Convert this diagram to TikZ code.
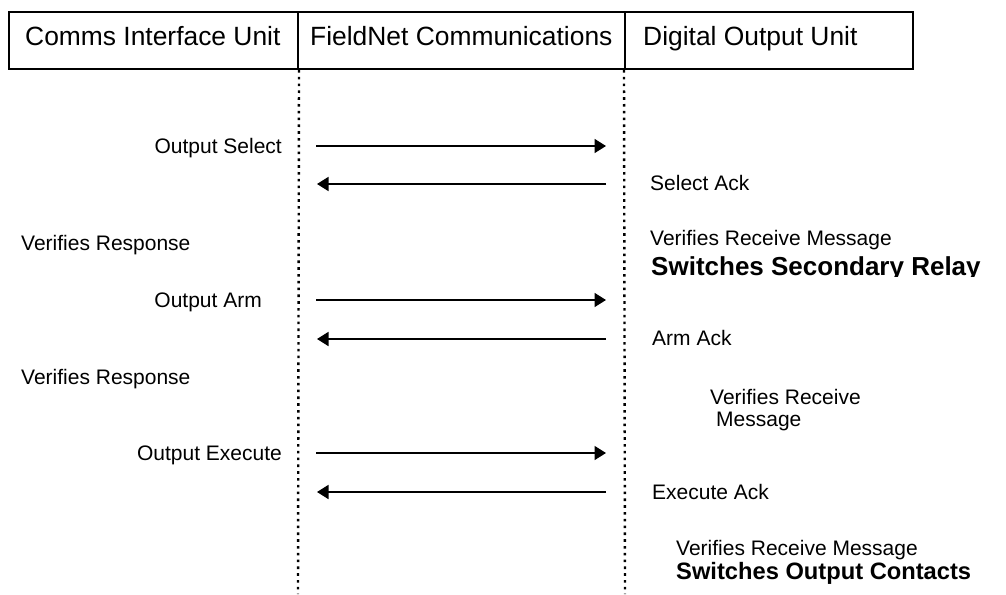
\documentclass[tikz,border=0pt]{standalone}
\usepackage{fontspec}
\setmainfont{Liberation Sans}
\usetikzlibrary{arrows.meta}
\begin{document}
\begin{tikzpicture}[x=1pt,y=-1pt,
  cell/.style={draw, line width=2pt, minimum height=57pt, inner sep=0pt},
  hdr/.style={font=\fontsize{26.4}{30}\selectfont, inner sep=0pt, anchor=base west},
  lbl/.style={font=\fontsize{21}{22.5}\selectfont, inner sep=0pt, anchor=base west},
  lblr/.style={font=\fontsize{21}{22.5}\selectfont, inner sep=0pt, anchor=base east},
  boldbig/.style={font=\fontsize{26}{29}\selectfont\bfseries, inner sep=0pt, anchor=base west},
  boldlbl/.style={font=\fontsize{23.7}{27}\selectfont\bfseries, inner sep=0pt, anchor=base west},
  life/.style={line width=2.4pt, dash pattern=on 2.6pt off 4.2pt},
  msg/.style={line width=1.7pt, -{Triangle[length=11.5pt,width=14pt]}}
]
\useasboundingbox (0,0) rectangle (1006,594);
\fill[white] (0,0) rectangle (1006,594);

% header cells
\node[cell, minimum width=289pt] (h1) at (153.5,40.5) {};
\node[cell, minimum width=327pt] (h2) at (461.5,40.5) {};
\node[cell, minimum width=288pt] (h3) at (769,40.5) {};
\node[hdr] (t1) at (25,45.5) {Comms Interface Unit};
\node[hdr] (t2) at (310,45.5) {FieldNet Communications};
\node[hdr] (t3) at (643,45.5) {Digital Output Unit};

% lifelines
\coordinate (l1end) at (298,594);
\coordinate (l2end) at (625,594);
\draw[life] (h1.south east) -- (l1end);
\draw[life] (h3.south west) -- (l2end);

% message end points
\coordinate (m1a) at (316,146); \coordinate (m1b) at (606,146);
\coordinate (m2a) at (606,184); \coordinate (m2b) at (317,184);
\coordinate (m3a) at (316,300); \coordinate (m3b) at (606,300);
\coordinate (m4a) at (606,339); \coordinate (m4b) at (317,339);
\coordinate (m5a) at (316,453); \coordinate (m5b) at (606,453);
\coordinate (m6a) at (606,492); \coordinate (m6b) at (317,492);
\draw[msg] (m1a) -- (m1b);
\draw[msg] (m2a) -- (m2b);
\draw[msg] (m3a) -- (m3b);
\draw[msg] (m4a) -- (m4b);
\draw[msg] (m5a) -- (m5b);
\draw[msg] (m6a) -- (m6b);

% labels
\node[lblr] (o1) at (282,153) {Output Select};
\node[lbl] (k1) at (650,190.5) {Select Ack};
\node[lbl] (v1) at (21,250) {Verifies Response};
\node[lbl] (r1) at (650,245.5) {Verifies Receive Message};
\begin{scope}
  \clip (640,240) rectangle (1006,276.5);
  \node[boldbig] (s1) at (651,275.5) {Switches Secondary Relay};
\end{scope}
\node[lblr] (o2) at (262,307.5) {Output Arm};
\node[lbl] (k2) at (652,345.5) {Arm Ack};
\node[lbl] (v2) at (21,384.5) {Verifies Response};
\node[lbl] (r2a) at (710,404) {Verifies Receive};
\node[lbl] (r2b) at (716,426) {Message};
\node[lblr] (o3) at (282,460) {Output Execute};
\node[lbl] (k3) at (652,499.5) {Execute Ack};
\node[lbl] (r3) at (676,555.5) {Verifies Receive Message};
\node[boldlbl] (s2) at (676,579) {Switches Output Contacts};
\end{tikzpicture}
\end{document}
